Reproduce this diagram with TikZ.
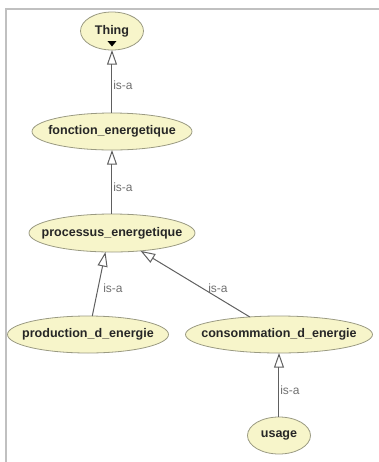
\documentclass[tikz,border=0pt]{standalone}
\usepackage{fontspec}
\setmainfont{Liberation Sans}
\usetikzlibrary{shapes.geometric,arrows.meta}
\definecolor{clsfill}{HTML}{F7F5CA}
\definecolor{clsdraw}{HTML}{9A9A82}
\definecolor{edgecol}{HTML}{606060}
\definecolor{labcol}{HTML}{707070}
\definecolor{framecol}{HTML}{C0C0C0}
\newcommand{\zw}[1]{\makebox[0pt][c]{#1}}
\tikzset{
  cls/.style={ellipse, draw=clsdraw, fill=clsfill, line width=0.6pt, inner sep=0pt, outer sep=0pt,
    font=\fontsize{9.4}{11}\selectfont\bfseries, text=black!85},
  isa/.style={draw=edgecol, line width=0.75pt, -{Triangle[open,length=11pt,width=7.5pt]}},
  isalab/.style={anchor=west, inner sep=0pt, text=labcol, font=\fontsize{9}{10}\selectfont},
}
\begin{document}
\begin{tikzpicture}[x=0.75pt,y=-0.75pt]
\useasboundingbox (0,0) rectangle (379,462);
\draw[framecol, line width=1.5pt] (6,462) -- (6,9) -- (379,9);
\node[cls, minimum width=63pt*0.75, minimum height=38pt*0.75] (thing) at (112,31) {\zw{Thing}};
\node[cls, minimum width=160pt*0.75, minimum height=37pt*0.75] (fonc) at (112,131.5) {\zw{fonction\_energetique}};
\node[cls, minimum width=166pt*0.75, minimum height=38pt*0.75] (proc) at (112,233) {\zw{processus\_energetique}};
\node[cls, minimum width=161pt*0.75, minimum height=37pt*0.75] (prod) at (88,334.5) {\zw{production\_d\_energie}};
\node[cls, minimum width=187pt*0.75, minimum height=37pt*0.75] (cons) at (279,334.5) {\zw{consommation\_d\_energie}};
\node[cls, minimum width=63pt*0.75, minimum height=37pt*0.75] (usage) at (279,435.5) {\zw{usage}};
\fill[black] ([shift={(-4.5,10)}]thing.center) -- ([shift={(4.5,10)}]thing.center) -- ([shift={(0,15.5)}]thing.center) -- cycle;
\draw[isa] (fonc) -- (thing);
\draw[isa] (proc) -- (fonc);
\draw[isa] (prod.77) -- (proc.251);
\draw[isa] (cons.149) -- (proc.328);
\draw[isa] (usage) -- (cons);
\node[isalab] (l1) at (113,85) {is-a};
\node[isalab] (l2) at (113,187) {is-a};
\node[isalab] (l3) at (103,288) {is-a};
\node[isalab] (l4) at (208,288) {is-a};
\node[isalab] (l5) at (280,390) {is-a};
\end{tikzpicture}
\end{document}
